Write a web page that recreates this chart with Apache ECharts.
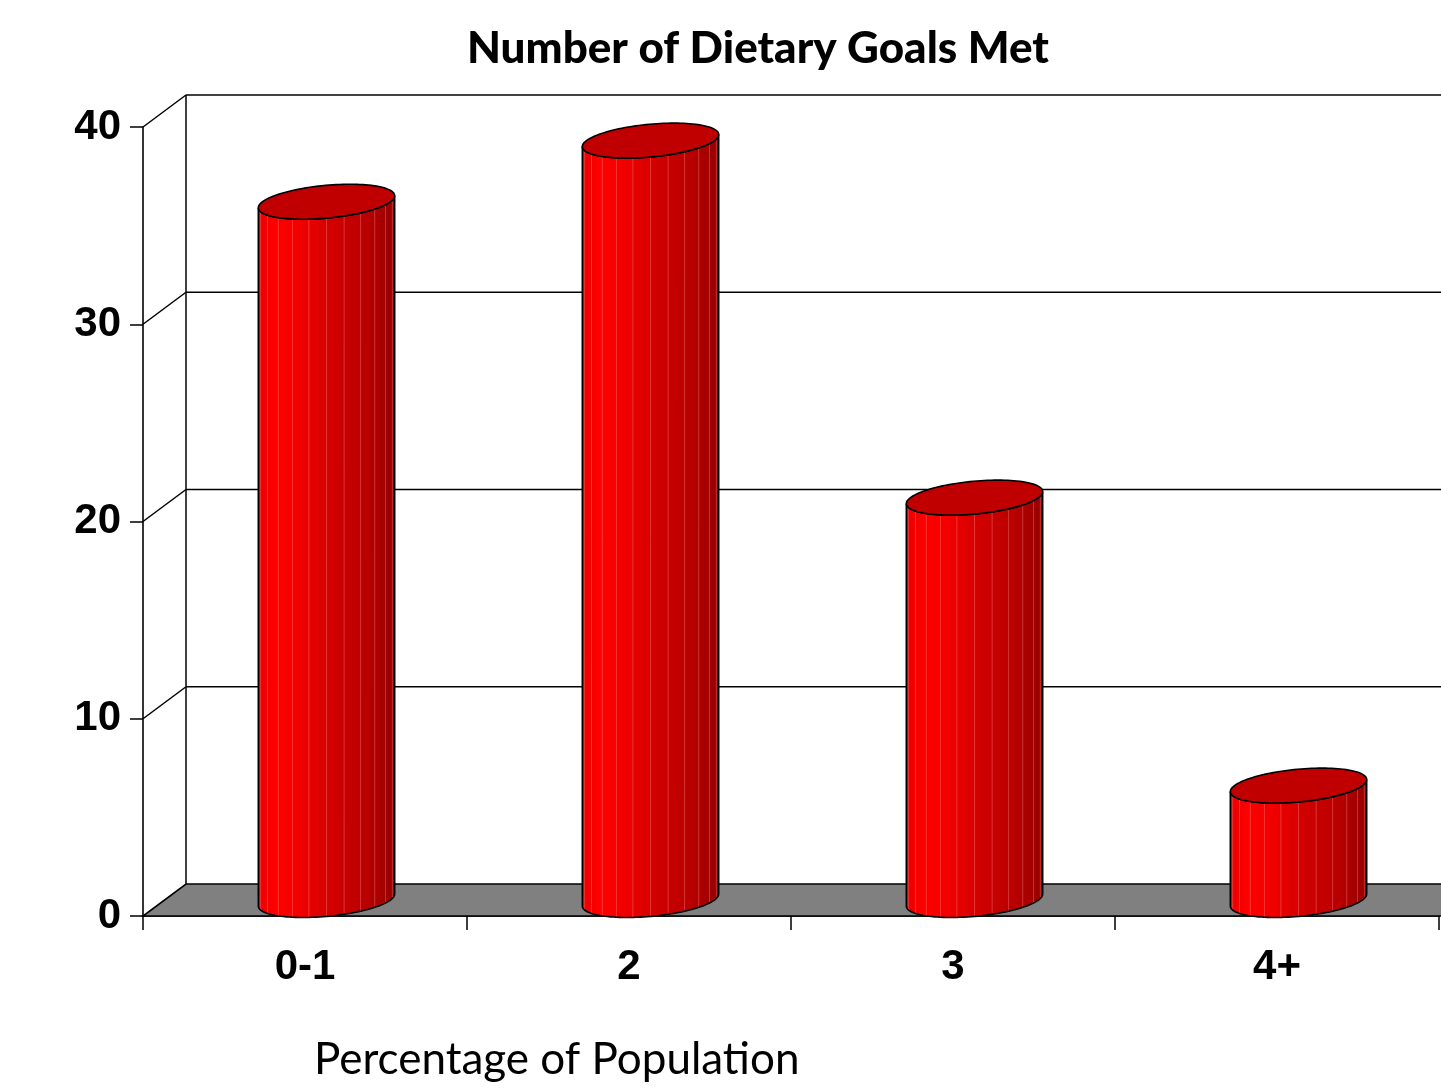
<!DOCTYPE html>
<html>
<head>
<meta charset="utf-8">
<title>Number of Dietary Goals Met</title>
<script src="https://cdn.jsdelivr.net/npm/echarts@6/dist/echarts.min.js"></script>
<style>
  html, body { margin: 0; padding: 0; background: #ffffff; }
  #chart { width: 1441px; height: 1090px; }
</style>
</head>
<body>
<div id="chart"></div>
<script>
// Share of the population (%) by number of dietary goals met
const categories = ['0-1', '2', '3', '4+'];
const shares = [35.4, 38.5, 20.4, 5.8];
const valueTicks = [0, 10, 20, 30, 40];

// Oblique depth of the plot box in pixels (back plane offset from the front plane)
const DEPTH = [43, -32];
// Cylinder cross-section: x radius, depth-direction x/y components
const CYL = { a: 64, b: 23.5, c: 17.5 };
const FACETS = 12;

const chart = echarts.init(document.getElementById('chart'), null, { renderer: 'canvas' });

const yMin = valueTicks[0];
const yMax = valueTicks[valueTicks.length - 1];
const edge = { stroke: '#000', lineWidth: 1.5 };

// Side wall, back wall gridlines and the grey floor
function renderFrame(params, api) {
  const v = api.value(1);
  const cs = params.coordSys;
  const y = api.coord([0, v])[1];
  const x0 = cs.x;
  const x1 = cs.x + cs.width + 80;
  const bx = x0 + DEPTH[0];
  const by = y + DEPTH[1];
  const children = [];
  if (v === yMin) {
    children.push({
      type: 'polygon',
      shape: { points: [[x0, y], [x1, y], [x1, by], [bx, by]] },
      style: { fill: '#808080', stroke: '#000', lineWidth: 1.6 }
    });
    const topBack = api.coord([0, yMax])[1] + DEPTH[1];
    children.push({ type: 'line', shape: { x1: bx, y1: by, x2: bx, y2: topBack }, style: edge });
  } else {
    children.push({ type: 'line', shape: { x1: x0, y1: y, x2: bx, y2: by }, style: edge });
    children.push({ type: 'line', shape: { x1: bx, y1: by, x2: x1, y2: by }, style: edge });
  }
  return { type: 'group', children: children };
}

const bodyFill = new echarts.graphic.LinearGradient(0, 0, 1, 0, [
  { offset: 0.00, color: '#e80000' },
  { offset: 0.12, color: '#ff0000' },
  { offset: 0.28, color: '#f40000' },
  { offset: 0.55, color: '#d00000' },
  { offset: 0.80, color: '#b80000' },
  { offset: 1.00, color: '#960000' }
]);

// One cylinder per category, standing at mid-depth of the box
function renderCylinder(params, api) {
  const i = api.value(0);
  const v = api.value(1);
  const base = api.coord([i, 0]);
  const top = api.coord([i, v]);
  const cx = base[0] + DEPTH[0] / 2;
  const yb = base[1] + DEPTH[1] / 2;
  const yt = top[1] + DEPTH[1] / 2;
  const a = CYL.a, b = CYL.b, c = CYL.c;
  const t0 = Math.atan2(b, a);
  const pt = (t, yc) => [cx + a * Math.cos(t) + b * Math.sin(t), yc - c * Math.sin(t)];

  const N = 60;
  const front = [];
  for (let k = 0; k <= N; k++) front.push(t0 + Math.PI + Math.PI * k / N);
  const bodyPts = front.map(t => pt(t, yt)).concat(front.slice().reverse().map(t => pt(t, yb)));

  const lidPts = [];
  for (let k = 0; k < 2 * N; k++) lidPts.push(pt(Math.PI * k / N, yt));

  const children = [];
  children.push({ type: 'polygon', shape: { points: bodyPts }, style: { fill: bodyFill } });
  for (let k = 1; k < FACETS; k++) {
    const t = t0 + Math.PI + Math.PI * k / FACETS;
    const p1 = pt(t, yt), p2 = pt(t, yb);
    children.push({
      type: 'line',
      shape: { x1: p1[0], y1: p1[1], x2: p2[0], y2: p2[1] },
      style: { stroke: 'rgba(255,150,150,0.35)', lineWidth: 1 }
    });
  }
  children.push({ type: 'polygon', shape: { points: bodyPts }, style: { fill: null, stroke: '#000', lineWidth: 1.6 } });
  children.push({ type: 'polygon', shape: { points: lidPts }, style: { fill: '#c00000', stroke: '#000', lineWidth: 1.6 } });
  return { type: 'group', children: children };
}

const option = {
  backgroundColor: '#ffffff',
  animation: false,
  title: [
    {
      text: 'Number of Dietary Goals Met',
      left: 462,
      top: 22,
      textStyle: { fontFamily: 'Lato', fontWeight: 900, fontSize: 44, color: '#000' }
    },
    {
      text: 'Percentage of Population',
      left: 309,
      top: 1033,
      textStyle: { fontFamily: 'Lato', fontWeight: 'normal', fontSize: 44, color: '#000' }
    }
  ],
  grid: { left: 143, right: 2, top: 127, bottom: 174 },
  xAxis: {
    type: 'category',
    data: categories,
    boundaryGap: true,
    axisLine: { show: true, lineStyle: { color: '#000', width: 1.6 } },
    axisTick: { show: true, length: 14, alignWithLabel: false, lineStyle: { color: '#000', width: 1.5 } },
    axisLabel: { fontFamily: 'Liberation Sans', fontWeight: 'bold', fontSize: 42, color: '#000', margin: 30 },
    splitLine: { show: false }
  },
  yAxis: {
    type: 'value',
    min: yMin,
    max: yMax,
    interval: 10,
    axisLine: { show: true, lineStyle: { color: '#000', width: 1.6 } },
    axisTick: { show: true, length: 13, lineStyle: { color: '#000', width: 1.5 } },
    axisLabel: { fontFamily: 'Liberation Sans', fontWeight: 'bold', fontSize: 42, color: '#000', margin: 22 },
    splitLine: { show: false }
  },
  series: [
    {
      type: 'custom',
      name: 'frame',
      renderItem: renderFrame,
      encode: { x: 0, y: 1 },
      data: valueTicks.map(v => [0, v]),
      silent: true,
      z: 1
    },
    {
      type: 'custom',
      name: 'Percentage of Population',
      renderItem: renderCylinder,
      encode: { x: 0, y: 1 },
      data: shares.map((v, i) => [i, v]),
      z: 3
    }
  ]
};

chart.setOption(option);
</script>
</body>
</html>
